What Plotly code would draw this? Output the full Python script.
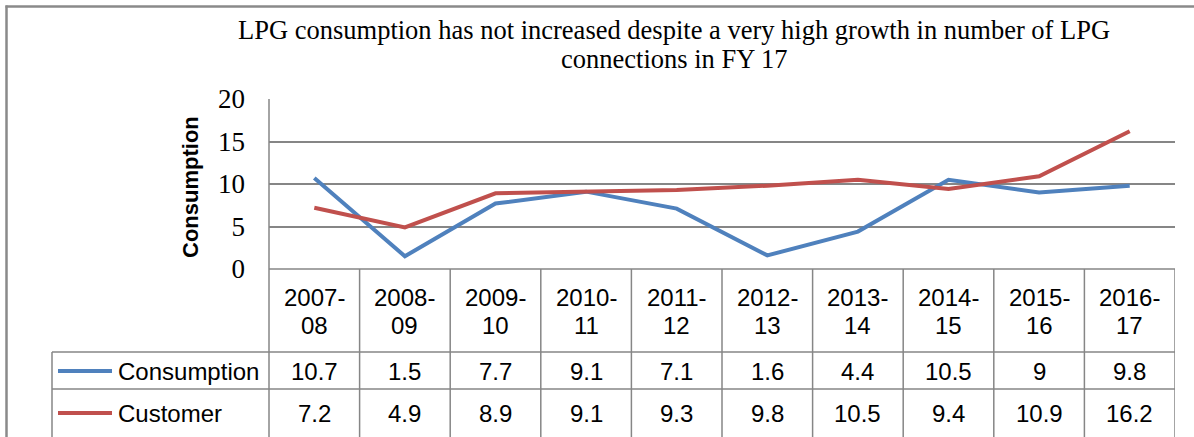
import plotly.graph_objects as go

categories = ["2007-08", "2008-09", "2009-10", "2010-11", "2011-12",
              "2012-13", "2013-14", "2014-15", "2015-16", "2016-17"]
consumption = [10.7, 1.5, 7.7, 9.1, 7.1, 1.6, 4.4, 10.5, 9, 9.8]
customer = [7.2, 4.9, 8.9, 9.1, 9.3, 9.8, 10.5, 9.4, 10.9, 16.2]
series_names = ["Consumption", "Customer"]
series_values = [consumption, customer]
colors = ["#4F81BD", "#C0504D"]
y_ticks = [0, 5, 10, 15, 20]
title_lines = ["LPG consumption has not increased despite a very high growth in number of LPG",
               "connections in FY 17"]

W, H = 1194, 437
L, R, T, B = 269, 1175, 99, 269   # plot area pixel bounds
PW, PH = R - L, B - T


def px(x):
    return (x - L) / PW


def py(y):
    return (B - y) / PH


n = len(categories)
xc = [i + 0.5 for i in range(n)]

fig = go.Figure()
for name, vals, col in zip(series_names, series_values, colors):
    fig.add_trace(go.Scatter(x=xc, y=vals, mode="lines", name=name,
                             line=dict(color=col, width=4), showlegend=False))

grid = "#868686"
shapes = []
# outer chart frame
shapes.append(dict(type="line", xref="paper", yref="paper", x0=px(5.5), x1=px(1200),
                   y0=py(6.5), y1=py(6.5), line=dict(color="#8a8a8a", width=2.5)))
shapes.append(dict(type="line", xref="paper", yref="paper", x0=px(6.5), x1=px(6.5),
                   y0=py(5.5), y1=py(445), line=dict(color="#8a8a8a", width=2.5)))
# plot-area left border extending through header
shapes.append(dict(type="line", xref="paper", yref="paper", x0=0, x1=0,
                   y0=1, y1=py(445), line=dict(color=grid, width=1.5)))
# axis line at 0
shapes.append(dict(type="line", xref="paper", yref="paper", x0=0, x1=1,
                   y0=0, y1=0, line=dict(color=grid, width=1.5)))
# column boundaries
for i in range(1, n + 1):
    shapes.append(dict(type="line", xref="x", yref="paper", x0=i, x1=i,
                       y0=0, y1=py(445), line=dict(color=grid, width=1.5)))
# row lines
for yy in (352, 389):
    shapes.append(dict(type="line", xref="paper", yref="paper", x0=px(52), x1=1,
                       y0=py(yy), y1=py(yy), line=dict(color=grid, width=1.5)))
shapes.append(dict(type="line", xref="paper", yref="paper", x0=px(52), x1=px(52),
                   y0=py(352), y1=py(445), line=dict(color=grid, width=1.5)))
# legend keys
row_y = [371, 413]
for yy, col in zip(row_y, colors):
    shapes.append(dict(type="line", xref="paper", yref="paper", x0=px(58), x1=px(112),
                       y0=py(yy), y1=py(yy), line=dict(color=col, width=4)))

annotations = []
tfont = dict(family="Liberation Sans, Arial", size=24, color="#000000")
for i, cat in enumerate(categories):
    a, b = cat.split("-")
    annotations.append(dict(x=xc[i], y=py(297), xref="x", yref="paper", text=a + "-",
                            showarrow=False, font=tfont, xanchor="center", yanchor="middle"))
    annotations.append(dict(x=xc[i], y=py(325), xref="x", yref="paper", text=b,
                            showarrow=False, font=tfont, xanchor="center", yanchor="middle"))
    for vals, yy in zip(series_values, row_y):
        annotations.append(dict(x=xc[i], y=py(yy), xref="x", yref="paper", text=f"{vals[i]:g}",
                                showarrow=False, font=tfont, xanchor="center", yanchor="middle"))
for name, yy in zip(series_names, row_y):
    annotations.append(dict(x=px(116), y=py(yy), xref="paper", yref="paper", text=name,
                            showarrow=False, font=tfont, xanchor="left", yanchor="middle"))
# title (two lines)
for line, yy in zip(title_lines, (30, 59)):
    annotations.append(dict(x=px(674), y=py(yy), xref="paper", yref="paper", text=line,
                            showarrow=False, align="center", xanchor="center", yanchor="middle",
                            font=dict(family="Liberation Serif, Times New Roman", size=26.5,
                                      color="#000000")))
# y-axis title
annotations.append(dict(x=px(190), y=py(187), xref="paper", yref="paper", text="<b>Consumption</b>",
                        showarrow=False, textangle=-90, xanchor="center", yanchor="middle",
                        font=dict(family="Liberation Sans, Arial", size=22, color="#000000")))

fig.update_layout(
    width=W, height=H, autosize=False,
    margin=dict(l=L, r=W - R, t=T, b=H - B, pad=0),
    paper_bgcolor="white", plot_bgcolor="white",
    xaxis=dict(range=[0, n], showgrid=False, zeroline=False, showticklabels=False,
               showline=False, fixedrange=True),
    yaxis=dict(range=[0, 20], tickvals=y_ticks, showgrid=True, gridcolor=grid, gridwidth=1.5,
               zeroline=False, showline=False, ticks="",
               tickfont=dict(family="Liberation Serif, Times New Roman", size=27, color="#000000"),
               ticklabelstandoff=23),
    shapes=shapes, annotations=annotations,
)

fig.write_html("out.html", config={"displayModeBar": False},
               post_script="document.body.style.margin='0px';")
